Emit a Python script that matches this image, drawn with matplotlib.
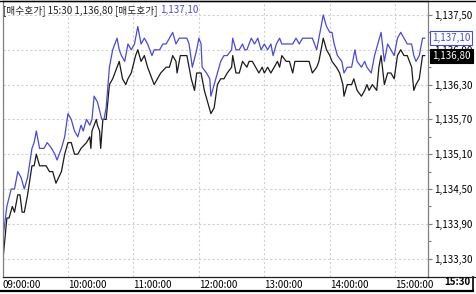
import matplotlib
matplotlib.use("Agg")
import matplotlib.pyplot as plt
from matplotlib.lines import Line2D

# 매도호가 (ask) - minutes after 09:00 and price
blue_min = [0, 4, 8, 11, 14, 17, 20, 23, 27, 29,
            31, 34, 38, 41, 45, 48, 50, 54, 57, 60,
            63, 66, 69, 72, 74, 77, 80, 82, 84, 87,
            91, 93, 95, 98, 101, 105, 107, 109, 112, 115,
            118, 121, 124, 127, 130, 133, 137, 139, 144, 147,
            150, 153, 156, 159, 162, 165, 169, 171, 174, 178,
            180, 182, 183, 187, 190, 191, 194, 197, 200, 203,
            206, 210, 211, 214, 217, 220, 222, 224, 228, 231,
            234, 237, 240, 243, 246, 248, 251, 254, 256, 263,
            266, 269, 272, 275, 281, 284, 288, 290, 294, 297,
            300, 302, 304, 307, 311, 313, 316, 320, 321, 323,
            325, 329, 332, 334, 338, 341, 344, 347, 350, 353,
            356, 359, 362, 365, 368, 371, 375, 377, 379, 382,
            385, 387]
blue_val = [1133.6, 1134.2, 1134.5, 1134.5, 1134.8, 1134.7, 1134.5, 1134.7, 1135.2, 1135.3,
            1135.5, 1135.2, 1135.2, 1135.3, 1135.2, 1135.1, 1135.0, 1135.2, 1135.4, 1135.8,
            1135.7, 1135.5, 1135.4, 1135.6, 1135.5, 1135.7, 1135.6, 1135.7, 1136.1, 1136.0,
            1135.7, 1135.7, 1135.9, 1136.6, 1136.9, 1137.1, 1136.9, 1136.8, 1136.7, 1137.0,
            1136.9, 1137.0, 1137.3, 1137.0, 1137.1, 1137.0, 1136.8, 1136.9, 1136.9, 1137.0,
            1137.0, 1137.1, 1137.2, 1137.0, 1137.1, 1137.1, 1137.1, 1137.0, 1136.6, 1136.9,
            1137.1, 1137.0, 1136.6, 1136.5, 1136.4, 1136.1, 1136.3, 1136.5, 1136.7, 1136.8,
            1136.8, 1136.9, 1137.1, 1136.9, 1136.9, 1137.0, 1136.9, 1136.9, 1137.1, 1137.0,
            1137.1, 1136.9, 1137.0, 1136.9, 1137.0, 1136.8, 1137.0, 1137.1, 1137.0, 1137.0,
            1137.0, 1137.1, 1137.0, 1137.1, 1137.1, 1137.1, 1136.9, 1137.1, 1137.5, 1137.3,
            1137.2, 1137.2, 1137.0, 1136.8, 1136.7, 1136.5, 1136.6, 1136.6, 1136.7, 1136.9,
            1136.7, 1136.6, 1136.7, 1136.6, 1136.5, 1136.8, 1137.0, 1137.2, 1136.7, 1137.0,
            1136.9, 1136.8, 1137.1, 1137.2, 1137.1, 1137.0, 1137.0, 1136.8, 1136.7, 1136.8,
            1137.1, 1137.1]

# 매수호가 (bid)
black_min = [0, 4, 6, 9, 11, 14, 16, 18, 20, 23,
             27, 29, 31, 34, 40, 43, 46, 49, 54, 57,
             60, 63, 66, 69, 72, 77, 80, 81, 82, 86,
             87, 89, 90, 92, 95, 98, 101, 105, 107, 110,
             113, 115, 118, 122, 124, 127, 130, 133, 137, 139,
             142, 145, 150, 153, 156, 159, 160, 163, 167, 169,
             173, 176, 178, 182, 185, 188, 191, 194, 197, 200,
             203, 206, 210, 211, 214, 217, 220, 224, 226, 229,
             232, 235, 238, 240, 243, 246, 249, 252, 254, 256,
             260, 263, 266, 268, 281, 284, 288, 290, 294, 297,
             300, 302, 306, 309, 312, 313, 316, 320, 322, 325,
             329, 332, 334, 336, 339, 343, 345, 347, 350, 353,
             356, 359, 362, 365, 368, 371, 375, 377, 379, 382,
             385, 387]
black_val = [1133.2, 1134.0, 1134.0, 1134.2, 1134.1, 1134.4, 1134.4, 1134.1, 1134.1, 1134.4,
             1134.9, 1134.9, 1135.1, 1134.9, 1134.9, 1134.8, 1134.8, 1134.6, 1134.8, 1135.1,
             1135.3, 1135.3, 1135.1, 1135.1, 1135.2, 1135.3, 1135.4, 1135.2, 1135.5, 1135.7,
             1135.6, 1135.5, 1135.2, 1135.7, 1135.7, 1136.3, 1136.4, 1136.6, 1136.7, 1136.4,
             1136.3, 1136.4, 1136.5, 1136.8, 1136.9, 1136.7, 1136.8, 1136.6, 1136.4, 1136.3,
             1136.4, 1136.5, 1136.6, 1136.6, 1136.8, 1136.7, 1136.5, 1136.8, 1136.8, 1136.8,
             1136.4, 1136.2, 1136.5, 1136.5, 1136.2, 1136.0, 1135.8, 1135.9, 1136.3, 1136.4,
             1136.4, 1136.5, 1136.6, 1136.8, 1136.5, 1136.5, 1136.7, 1136.6, 1136.7, 1136.7,
             1136.6, 1136.5, 1136.6, 1136.5, 1136.6, 1136.5, 1136.6, 1136.7, 1136.6, 1136.8,
             1136.7, 1136.7, 1136.5, 1136.7, 1136.7, 1136.5, 1136.6, 1136.7, 1137.1, 1136.9,
             1136.8, 1136.7, 1136.6, 1136.5, 1136.3, 1136.1, 1136.3, 1136.3, 1136.4, 1136.2,
             1136.1, 1136.2, 1136.3, 1136.2, 1136.3, 1136.2, 1136.6, 1136.8, 1136.3, 1136.5,
             1136.5, 1136.4, 1136.8, 1136.9, 1136.8, 1136.8, 1136.6, 1136.2, 1136.3, 1136.4,
             1136.8, 1136.8]

hour_ticks = [0, 60, 120, 180, 240, 300, 360]
hour_labels = ["09:00:00", "10:00:00", "11:00:00", "12:00:00", "13:00:00", "14:00:00", "15:00:00"]
price_ticks = [1133.3, 1133.9, 1134.5, 1135.1, 1135.7, 1136.3, 1136.9, 1137.5]

FONT = ["Liberation Sans Narrow", "Noto Sans CJK KR", "DejaVu Sans"]
BLUE = "#4a4ad8"
W, H = 476, 294


def fmt(v):
    return f"{v:,.2f}".replace(".", ",")


def main():
    plt.rcParams["font.family"] = FONT
    fig = plt.figure(figsize=(W / 100, H / 100), dpi=100)
    ax = fig.add_axes([2.5 / W, 17 / H, 425.5 / W, 276 / H])

    ax.plot(black_min, black_val, color="#1a1a1a", lw=0.9)
    ax.plot(blue_min, blue_val, color=BLUE, lw=0.9)

    ax.set_xlim(0, 390)
    ax.set_ylim(1132.983, 1137.741)

    ax.set_xticks(hour_ticks)
    ax.set_xticklabels(hour_labels, ha="left", fontsize=7)
    ax.tick_params(axis="x", length=0, pad=2.5)

    ax.yaxis.tick_right()
    ax.set_yticks(price_ticks)
    ax.set_yticklabels([fmt(v) for v in price_ticks], fontsize=7)
    ax.set_yticks([v + 0.3 for v in price_ticks[:-1]], minor=True)
    ax.tick_params(axis="y", which="major", length=3, width=0.8, color="#808080", pad=1.5)
    ax.tick_params(axis="y", which="minor", length=2, width=0.8, color="#808080")

    ax.grid(True, which="major", color="#d0d0d0", linestyle=(0, (2, 2)), lw=0.8)
    ax.set_axisbelow(True)

    ax.spines["right"].set_color("#808080")
    ax.spines["left"].set_color("#808080")
    ax.spines["bottom"].set_color("#202020")
    ax.spines["top"].set_color("#000000")
    for s in ax.spines.values():
        s.set_linewidth(0.9)

    # legend text at top left
    ax.text(0.002, 0.985, "[매수호가] 15:30 1,136,80 [매도호가]", transform=ax.transAxes,
            ha="left", va="top", fontsize=7, color="#202020")
    ax.text(158 / 425.5, 0.985, fmt(blue_val[-1]), transform=ax.transAxes,
            ha="left", va="top", fontsize=7, color=BLUE)

    # last value boxes on the price axis
    ax.annotate(fmt(blue_val[-1]), xy=(1.0, blue_val[-1]), xycoords=("axes fraction", "data"),
                xytext=(3, 0), textcoords="offset points", ha="left", va="center",
                fontsize=7, color=BLUE, annotation_clip=False, zorder=6,
                bbox=dict(boxstyle="square,pad=0.2", fc="white", ec=BLUE, lw=0.8))
    ax.annotate(fmt(black_val[-1]), xy=(1.0, black_val[-1]), xycoords=("axes fraction", "data"),
                xytext=(3, 0), textcoords="offset points", ha="left", va="center",
                fontsize=7, color="white", annotation_clip=False, zorder=6,
                bbox=dict(boxstyle="square,pad=0.2", fc="black", ec="black", lw=0.8))

    fig.text(470 / W, 1 - 282 / H, "15:30", ha="right", va="center",
             fontsize=7, fontweight="bold", color="black")

    # outer frame lines
    fig.add_artist(Line2D([0, 473 / W], [1 - 290.5 / H] * 2, color="black", lw=1.6))
    fig.add_artist(Line2D([473 / W] * 2, [1 - 277 / H, 1 - 291 / H], color="black", lw=1.2))
    fig.add_artist(Line2D([428 / W, 1], [1 - 277 / H] * 2, color="#202020", lw=0.9))
    fig.add_artist(Line2D([0, 1], [1 - 0.5 / H] * 2, color="black", lw=1.0))

    fig.savefig("out.png", dpi=100)


if __name__ == "__main__":
    main()
